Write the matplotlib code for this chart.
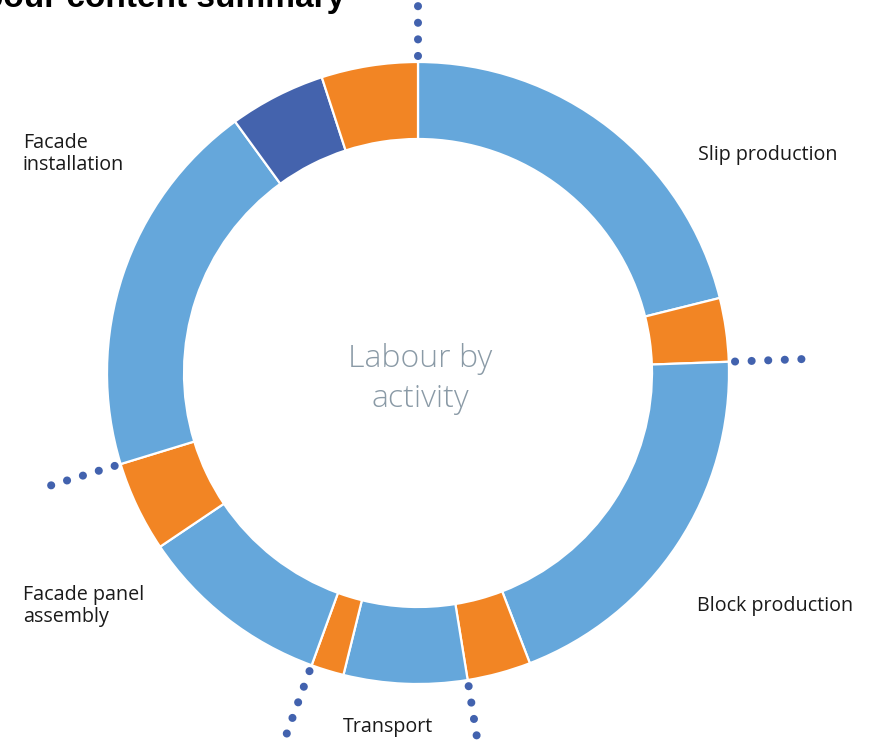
import numpy as np
import matplotlib.pyplot as plt

# canvas in pixels
W, H = 875, 750

# labour by activity (% of total)
activities = ["Slip production", "Block production", "Transport",
              "Facade panel\nassembly", "Facade\ninstallation"]
direct = [21.1, 19.7, 6.4, 10.0, 19.7]
other = [0.0, 0.0, 0.0, 0.0, 5.0]
indirect = [3.3, 3.3, 1.7, 4.7, 5.0]

c_direct = "#65a7db"
c_other = "#4463ad"
c_indirect = "#f28524"
c_dots = "#4262ae"

# build ring segments, group by group
vals, cols = [], []
for d, o, i in zip(direct, other, indirect):
    for v, c in ((d, c_direct), (o, c_other), (i, c_indirect)):
        if v > 0:
            vals.append(v)
            cols.append(c)

fig = plt.figure(figsize=(W / 100, H / 100), dpi=100)
ax = fig.add_axes([0, 0, 1, 1])

cx, cy = 418, H - 373
R = 311
ax.pie(vals, colors=cols, startangle=90, counterclock=False, radius=R,
       center=(cx, cy),
       wedgeprops=dict(width=77, edgecolor="white", linewidth=1.6))

# dotted markers at the group boundaries
totals = np.array(direct) + np.array(other) + np.array(indirect)
bounds = np.concatenate([[0], np.cumsum(totals)[:-1]]) / totals.sum() * 2 * np.pi
for t in bounds:
    r = np.array([R * 1.02, R * 1.265])
    ax.plot(cx + r * np.sin(t), cy + r * np.cos(t), color=c_dots,
            lw=5.8, linestyle=(0, (0.01, 2.05)), dash_capstyle="round")

# activity labels
lab = dict(fontsize=14.2, color="#1a1a1a", family=["Open Sans", "DejaVu Sans"],
           linespacing=1.15)
ax.text(698, H - 155, activities[0], ha="left", va="center", **lab)
ax.text(697, H - 606, activities[1], ha="left", va="center", **lab)
ax.text(343, H - 727, activities[2], ha="left", va="center", **lab)
ax.text(23, H - 606, activities[3], ha="left", va="center", **lab)
ax.text(23, H - 154, activities[4], ha="left", va="center", **lab)

# centre caption
ax.text(cx + 2, cy - 6, "Labour by\nactivity", ha="center", va="center",
        fontsize=23, color="#8a9aa6", fontweight="light",
        family=["Open Sans", "DejaVu Sans"], linespacing=1.35)

# title, cut off by the top edge
ax.text(345, H - 7, "Labour content summary", ha="right", va="baseline",
        fontsize=24, fontweight="bold", color="black",
        family=["Liberation Sans", "DejaVu Sans"])

ax.set_xlim(0, W)
ax.set_ylim(0, H)
ax.set_aspect("equal")
ax.axis("off")

fig.savefig("out.png", dpi=100)
